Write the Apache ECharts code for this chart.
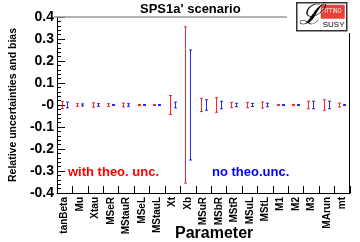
<!DOCTYPE html>
<html>
<head>
<meta charset="utf-8">
<script src="https://cdn.jsdelivr.net/npm/echarts@6/dist/echarts.min.js"></script>
<style>html,body{margin:0;padding:0;background:#fff}#c{width:360px;height:242px}</style>
</head>
<body>
<div id="c"></div>
<script>
const categories = ["tanBeta","Mu","Xtau","MSeR","MStauR","MSeL","MStauL","Xt","Xb","MSuR","MSbR","MStR","MSuL","MStL","M1","M2","M3","MArun","mt"];
const withTheoBias = [0,0,0,0,0,0,0,0,0,0,0,0,0,0,0,0,0,0,0];
const withTheoErr  = [0.016,0.006,0.010,0.006,0.009,0.002,0.002,0.043,0.355,0.030,0.033,0.012,0.012,0.014,0.002,0.002,0.017,0.024,0.009];
const noTheoBias   = [0,0,0,0,0,0,0,0,0,0,0,0,0,0,0,0,0,0,0];
const noTheoErr    = [0.013,0.005,0.006,0.002,0.006,0.002,0.002,0.013,0.250,0.024,0.017,0.008,0.007,0.008,0.002,0.002,0.017,0.017,0.002];
const yTickValues  = [-0.4,-0.3,-0.2,-0.1,0,0.1,0.2,0.3,0.4];
const yTickLabels  = ["-0.4","-0.3","-0.2","-0.1","-0","0.1","0.2","0.3","0.4"];

const FONT = "Liberation Sans";
const chart = echarts.init(document.getElementById('c'), null, {renderer:'canvas'});

function errRender(offset, color){
  return function(params, api){
    const i = api.value(0), c = api.value(1), e = api.value(2);
    const top = api.coord([i, c + e]);
    const bot = api.coord([i, c - e]);
    const x = Math.round(top[0] + offset) + 0.5;
    const hw = 1.5;
    const st = {stroke: color, lineWidth: 1};
    return {type:'group', children:[
      {type:'line', shape:{x1:x, y1:top[1], x2:x, y2:bot[1]}, style:st},
      {type:'line', shape:{x1:x-hw, y1:top[1], x2:x+hw, y2:top[1]}, style:st},
      {type:'line', shape:{x1:x-hw, y1:bot[1], x2:x+hw, y2:bot[1]}, style:st}
    ]};
  };
}

const option = {
  animation:false,
  backgroundColor:'#fff',
  grid:{left:54, right:10, top:17, bottom:49, containLabel:false},
  xAxis:{
    type:'category', data:categories, boundaryGap:true,
    axisLine:{show:true, onZero:false, lineStyle:{color:'#000', width:1}},
    axisTick:{show:true, inside:true, length:7, alignWithLabel:false, interval:0, lineStyle:{color:'#000'}},
    axisLabel:{rotate:90, interval:0, fontFamily:FONT, fontWeight:'bold', fontSize:10, color:'#000', margin:4},
    splitLine:{show:false}
  },
  yAxis:{
    type:'value', min:-0.4, max:0.4, interval:0.1,
    name:'Relative uncertainties and bias', nameLocation:'middle', nameGap:36,
    nameTextStyle:{fontFamily:FONT, fontWeight:'bold', fontSize:10.5, color:'#000'},
    axisLine:{show:true, lineStyle:{color:'#000', width:1}},
    axisTick:{show:true, inside:true, length:8, lineStyle:{color:'#000'}},
    minorTick:{show:true, splitNumber:5, length:4, lineStyle:{color:'#000'}},
    axisLabel:{fontFamily:FONT, fontWeight:'bold', fontSize:14, color:'#000', margin:3,
      formatter:function(v){ const k = yTickValues.findIndex(t=>Math.abs(t-v)<1e-6); return k>=0 ? yTickLabels[k] : ''; }},
    splitLine:{show:false}
  },
  series:[
    {type:'custom', name:'with theo. unc.', renderItem:errRender(-3,'rgba(255,0,0,0.85)'),
     data:categories.map((c,i)=>[i, withTheoBias[i], withTheoErr[i]]), encode:{x:0,y:1}, z:3},
    {type:'custom', name:'no theo.unc.', renderItem:errRender(2,'rgba(0,0,255,0.85)'),
     data:categories.map((c,i)=>[i, noTheoBias[i], noTheoErr[i]]), encode:{x:0,y:1}, z:3}
  ],
  graphic:[
    {type:'line', shape:{x1:54, y1:17, x2:287, y2:17}, style:{stroke:'#999', lineWidth:1.5}, z:5},
    {type:'line', shape:{x1:349.5, y1:33, x2:349.5, y2:193}, style:{stroke:'#000', lineWidth:1}, z:5},
    {type:'text', left:140, top:3, style:{text:"SPS1a' scenario", font:"bold 13px '"+FONT+"'", fill:'#000'}},
    {type:'text', left:175, top:226, style:{text:'Parameter', font:"bold 16px '"+FONT+"'", fill:'#000'}},
    {type:'text', left:68, top:166, style:{text:'with theo. unc.', font:"bold 13px '"+FONT+"'", fill:'#ff0000'}},
    {type:'text', left:212, top:166, style:{text:'no theo.unc.', font:"bold 13px '"+FONT+"'", fill:'#0000ff'}},
    {type:'group', left:296, top:2, children:[
      {type:'rect', shape:{x:0, y:0, width:50, height:28}, style:{fill:'#fff', stroke:'#333', lineWidth:1.5}},
      {type:'rect', shape:{x:24, y:2, width:24, height:14}, style:{fill:'#e8403a'}},
      {type:'text', x:25, y:5, scaleX:0.72, style:{text:'FITTINO', font:"7px '"+FONT+"'", fill:'#fff'}},
      {type:'text', x:26, y:18, style:{text:'SUSY', font:"8px '"+FONT+"'", fill:'#000'}},
      {type:'text', x:2, y:0, style:{text:'\u2112', font:"italic 28px 'DejaVu Serif'", fill:'#000'}}
    ]}
  ]
};
chart.setOption(option);
</script>
</body>
</html>
